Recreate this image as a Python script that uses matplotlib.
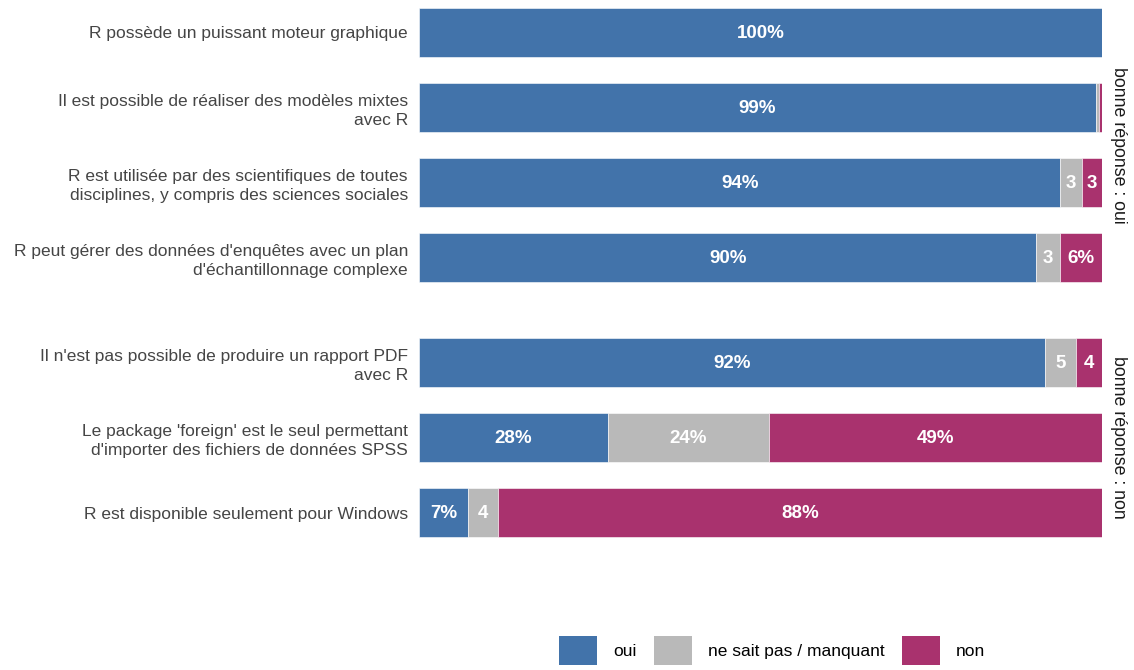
"""
opinions sur R : barres empilées par bonne réponse
"""

import matplotlib.pyplot as plt
from matplotlib.patches import Patch

plt.rcParams["font.family"] = ["Liberation Sans", "DejaVu Sans"]

# facette "bonne réponse : oui"
questions_oui = [
    "R possède un puissant moteur graphique",
    "Il est possible de réaliser des modèles mixtes\navec R",
    "R est utilisée par des scientifiques de toutes\ndisciplines, y compris des sciences sociales",
    "R peut gérer des données d'enquêtes avec un plan\nd'échantillonnage complexe",
]
oui_1 = [100.0, 99.1, 93.9, 90.4]
nsp_1 = [0.0, 0.4, 3.1, 3.4]
non_1 = [0.0, 0.5, 3.0, 6.2]

# facette "bonne réponse : non"
questions_non = [
    "Il n'est pas possible de produire un rapport PDF\navec R",
    "Le package 'foreign' est le seul permettant\nd'importer des fichiers de données SPSS",
    "R est disponible seulement pour Windows",
]
oui_2 = [91.6, 27.6, 7.2]
nsp_2 = [4.6, 23.7, 4.4]
non_2 = [3.8, 48.7, 88.4]

modalites = ["oui", "ne sait pas / manquant", "non"]
couleurs = ["#4273AA", "#B9B9B9", "#A9326E"]


def etiquette(v):
    if v >= 5:
        return f"{v:.0f}%"
    if v >= 2:
        return f"{v:.0f}"
    return ""


def facette(ax, questions, series, titre):
    y = list(range(len(questions)))
    left = [0.0] * len(questions)
    for vals, col in zip(series, couleurs):
        ax.barh(y, vals, left=left, height=0.66, color=col,
                edgecolor="white", linewidth=0.4)
        for yi, l, v in zip(y, left, vals):
            txt = etiquette(v)
            if txt:
                ax.text(l + v / 2, yi + 0.01, txt, ha="center", va="center",
                        color="white", fontweight="bold", fontsize=13.5)
        left = [a + b for a, b in zip(left, vals)]
    ax.set_xlim(0, 100)
    ax.set_ylim(len(questions) - 1 + 0.43, -0.43)
    ax.set_yticks(y)
    ax.set_yticklabels(questions, fontsize=12.5, color="#454545",
                       linespacing=1.35)
    ax.tick_params(axis="y", length=0, pad=8)
    ax.set_xticks([])
    for s in ax.spines.values():
        s.set_visible(False)
    ax.text(1.012, 0.5, titre, transform=ax.transAxes, rotation=-90,
            ha="left", va="center", fontsize=12.8, color="#1A1A1A")


W, H = 1134, 670
fig = plt.figure(figsize=(W / 100, H / 100), dpi=100)
x0, x1 = 419 / W, 1102 / W
ax1 = fig.add_axes([x0, 1 - 290 / H, x1 - x0, 290 / H])
ax2 = fig.add_axes([x0, 1 - 545 / H, x1 - x0, 215 / H])

facette(ax1, questions_oui, [oui_1, nsp_1, non_1], "bonne réponse : oui")
facette(ax2, questions_non, [oui_2, nsp_2, non_2], "bonne réponse : non")

handles = [Patch(facecolor=c, edgecolor="none") for c in couleurs]
fig.legend(handles, modalites, ncol=3, loc="upper center",
           bbox_to_anchor=(772 / W, 1 - 620 / H), frameon=False,
           fontsize=12.5, handlelength=2.2, handleheight=2.2,
           columnspacing=1.0, handletextpad=0.9)

fig.savefig("out.png", dpi=100)
